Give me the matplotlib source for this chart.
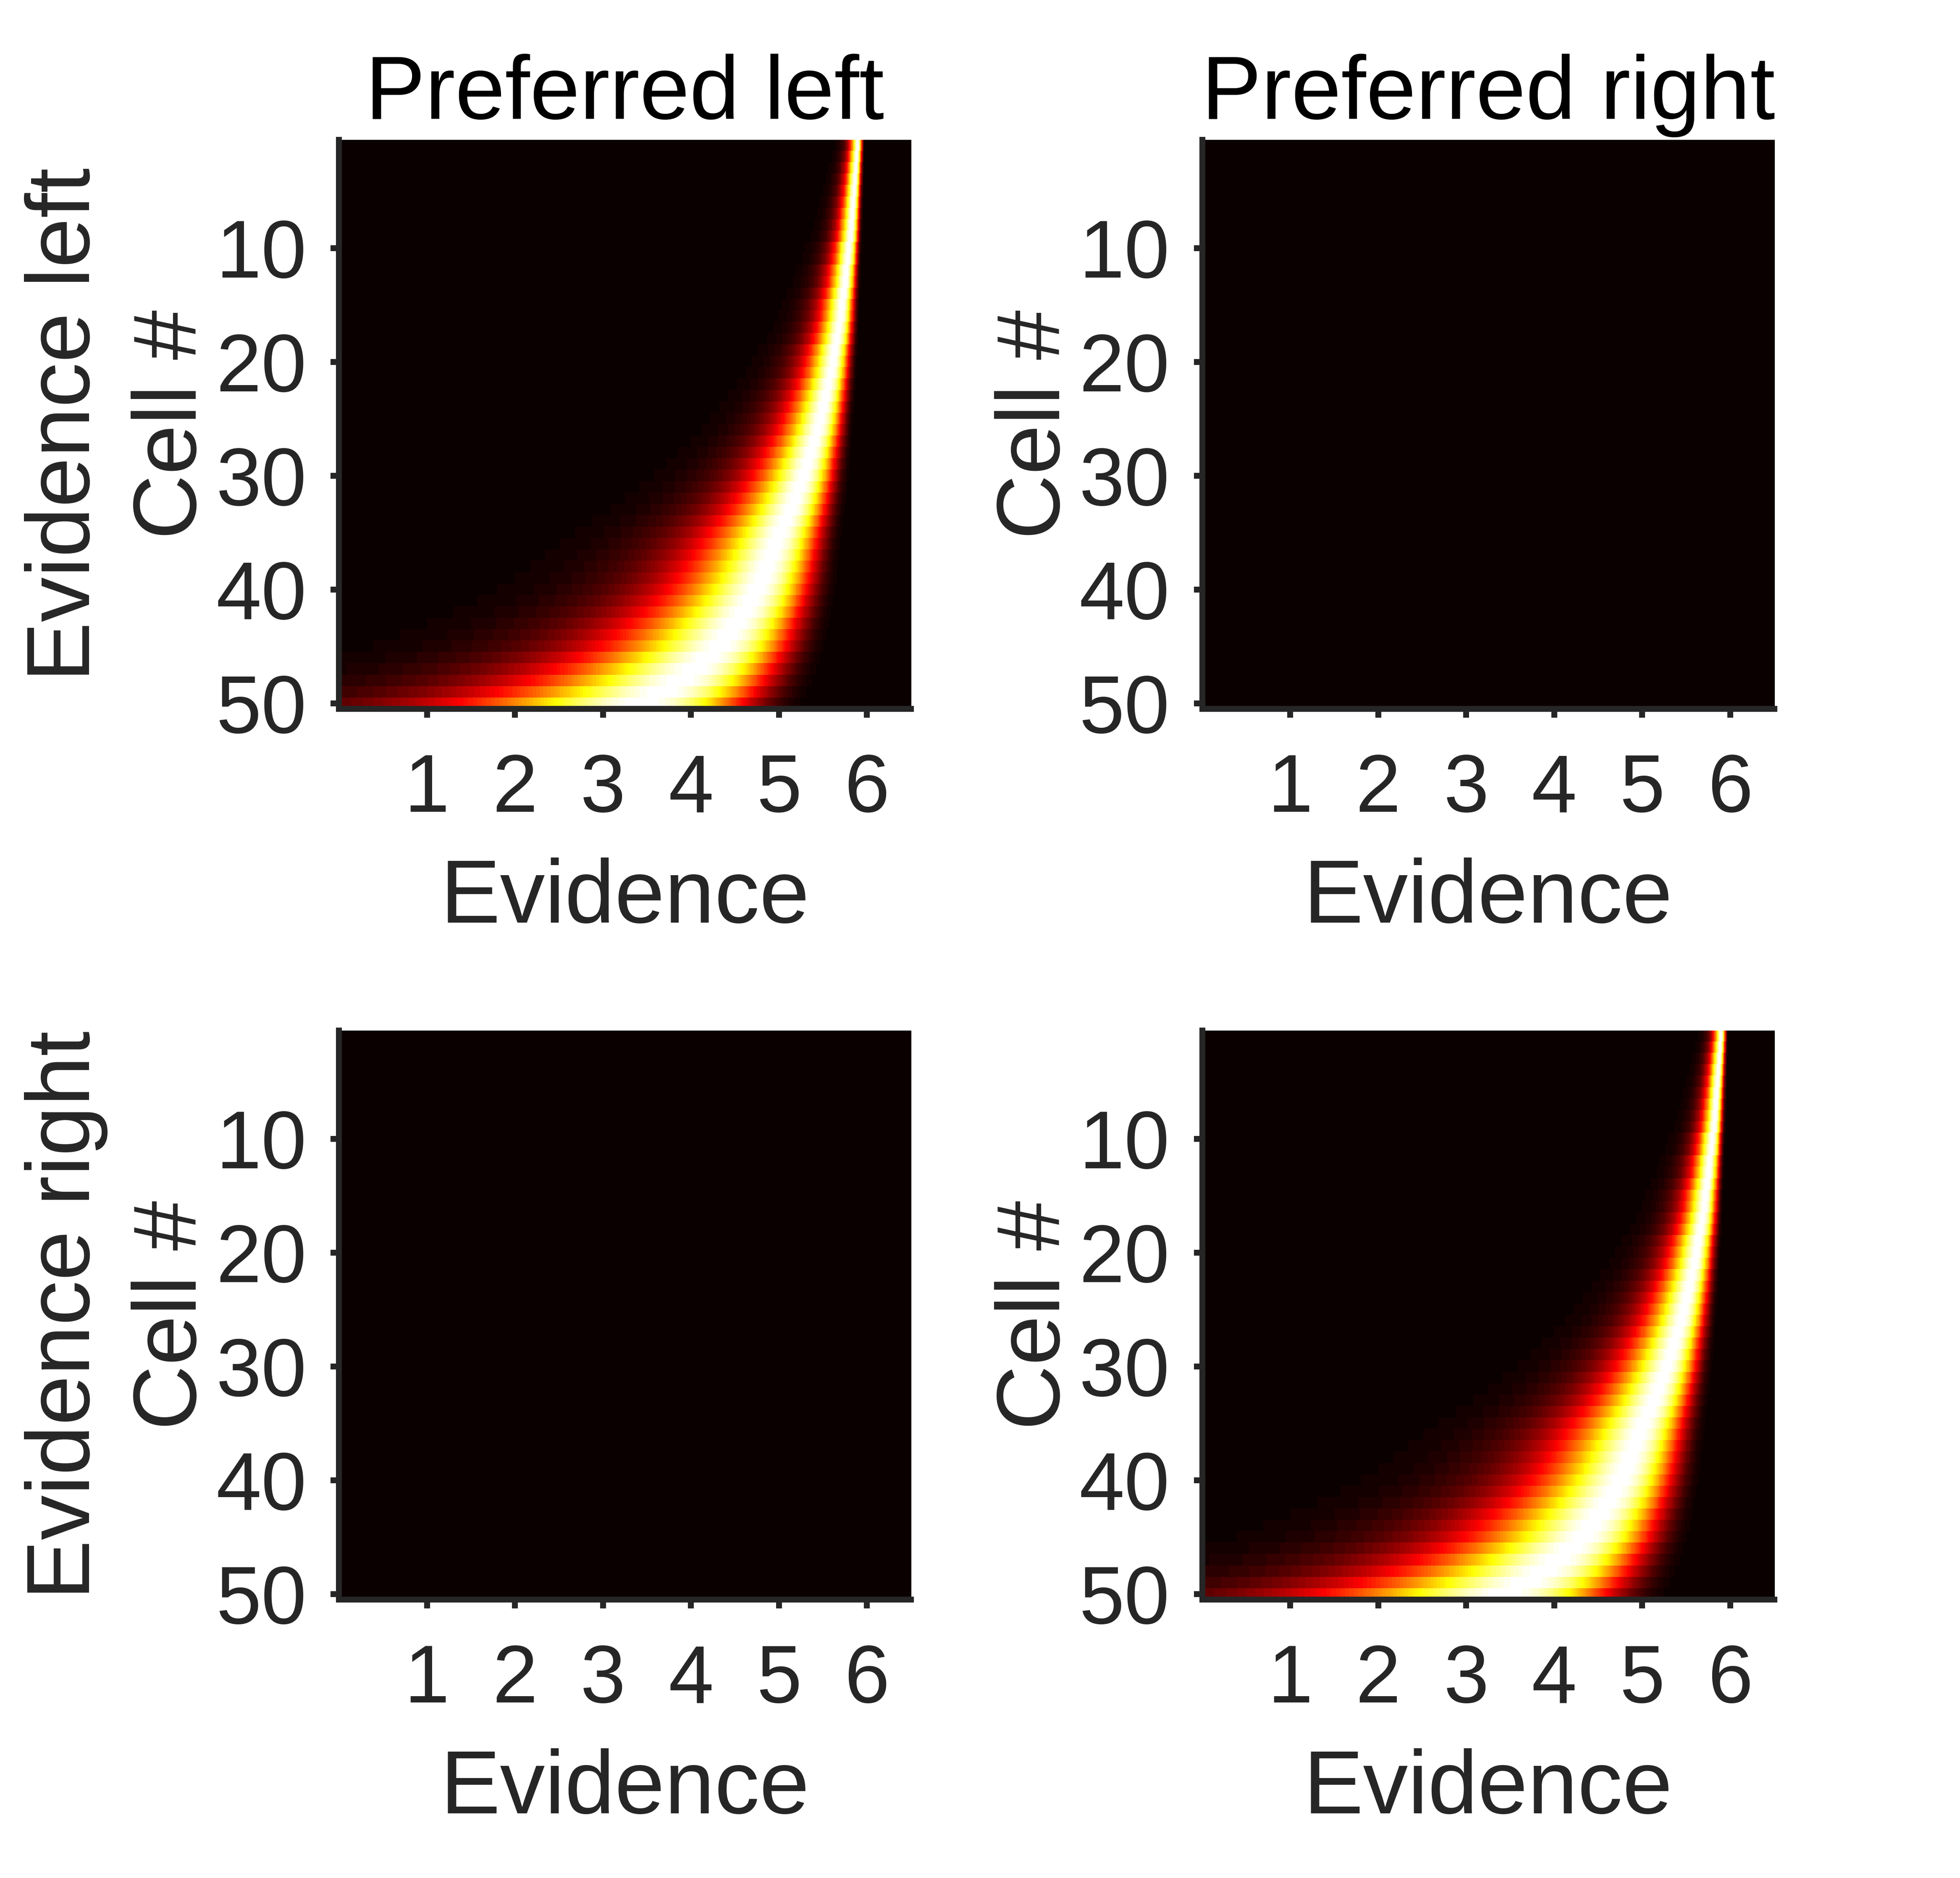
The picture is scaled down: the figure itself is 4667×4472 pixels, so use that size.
import numpy as np
import matplotlib
matplotlib.use('Agg')
import matplotlib.pyplot as plt

plt.rcParams['font.family'] = ['Liberation Sans', 'DejaVu Sans']

# Evidence value where each cell fires most (cell 1 = top row)
peak_evidence = [5.89, 5.88, 5.87, 5.86, 5.85, 5.84, 5.83, 5.82, 5.81, 5.79,
                 5.78, 5.76, 5.75, 5.73, 5.71, 5.70, 5.68, 5.66, 5.63, 5.61,
                 5.59, 5.56, 5.53, 5.50, 5.47, 5.44, 5.40, 5.36, 5.32, 5.28,
                 5.23, 5.18, 5.13, 5.07, 5.01, 4.96, 4.91, 4.86, 4.81, 4.75,
                 4.68, 4.60, 4.51, 4.42, 4.33, 4.19, 4.04, 3.88, 3.68, 3.45]
log_width = 0.42    # tuning width of each cell, in log distance-to-bound
bound = 6.0         # tuning is measured as distance to this evidence value
x_max = 6.5

col_titles = ['Preferred left', 'Preferred right']
row_labels = ['Evidence left', 'Evidence right']
# which panels show activity (row = evidence side, col = preferred side)
active = [[True, False],
          [False, True]]
x_ticks = [1, 2, 3, 4, 5, 6]
y_ticks = [10, 20, 30, 40, 50]

n_cells = len(peak_evidence)
evidence = np.arange(0.005, x_max, 0.01)

# Activity matrix: one row per cell, peak normalised to 1
dist = np.broadcast_to(bound - evidence[None, :], (n_cells, evidence.size))
dist0 = bound - np.array(peak_evidence)[:, None]
ratio = np.clip(dist / dist0, 1e-9, None)
resp = np.exp(-np.log(ratio) ** 2 / (2 * log_width ** 2))
resp[dist <= 0] = 0
silent = np.zeros_like(resp)

cmap = matplotlib.colormaps['hot'].resampled(64)
axis_col = '#262626'
dpi = 300
lw = 14 * 72 / dpi

fig = plt.figure(figsize=(4667 / dpi, 4472 / dpi), dpi=dpi)
lefts = [0.17292, 0.61335]
bottoms = [0.62243, 0.14819]
w, h = 0.29184, 0.30300

for i in range(2):
    for j in range(2):
        ax = fig.add_axes([lefts[j], bottoms[i], w, h])
        data = resp if active[i][j] else silent
        ax.imshow(data, cmap=cmap, vmin=0, vmax=1, aspect='auto',
                  interpolation='nearest',
                  extent=[0, x_max, n_cells + 0.5, 0.5])
        ax.set_xlim(0, x_max)
        ax.set_ylim(n_cells + 0.5, 0.5)
        ax.set_xticks(x_ticks)
        ax.set_yticks(y_ticks)
        for s in ['top', 'right']:
            ax.spines[s].set_visible(False)
        for s in ['left', 'bottom']:
            ax.spines[s].set_linewidth(lw)
            ax.spines[s].set_color(axis_col)
            ax.spines[s].set_capstyle('projecting')
        ax.tick_params(axis='both', direction='out', length=20.5 * 72 / dpi,
                       width=lw, color=axis_col, labelcolor=axis_col,
                       labelsize=46.5)
        ax.tick_params(axis='x', pad=20.0)
        ax.tick_params(axis='y', pad=13.6)

        ax.set_xlabel('Evidence', fontsize=51.3, color=axis_col)
        ax.xaxis.set_label_coords(0.5, -0.261)
        if j == 0:
            ylab = row_labels[i] + '\nCell #'
        else:
            ylab = 'Cell #'
        ax.set_ylabel(ylab, fontsize=51.3, color=axis_col, linespacing=1.36)
        ax.yaxis.set_label_coords(-0.217, 0.5)
        if i == 0:
            ax.set_title(col_titles[j], fontsize=51.3, color='black',
                         y=1.0373, pad=0)

plt.savefig('out.png', dpi=dpi, facecolor='white')
